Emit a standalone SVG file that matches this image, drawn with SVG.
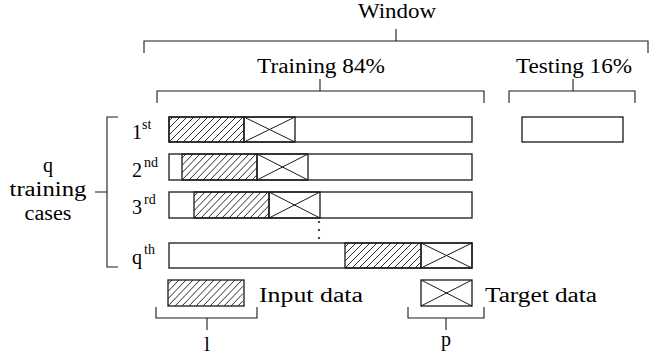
<svg xmlns="http://www.w3.org/2000/svg" width="667" height="358" viewBox="0 0 667 358">
  <!-- bracket connectors -->
  <g id="connectors" fill="none" stroke="#1a1a1a" stroke-width="1.1">
    <path d="M144,53 V41 H648 V53 M396,29 V41"/>
    <path d="M157,103 V91 H484 V103 M320,79 V91"/>
    <path d="M509,103 V91 H635 V103 M573,79 V91"/>
    <path d="M118,117 H107 V267 H118 M95,192 H107"/>
    <path d="M156,307 V318 H257 V307 M207,318 V330"/>
    <path d="M408,307 V318 H484 V307 M446,318 V330"/>
  </g>

  <g id="window-label">
    <text font-family="Liberation Serif" font-size="20" x="397" y="18" text-anchor="middle" textLength="78" lengthAdjust="spacingAndGlyphs">Window</text>
  </g>
  <g id="training-label">
    <text font-family="Liberation Serif" font-size="20" x="321" y="73" text-anchor="middle" textLength="128" lengthAdjust="spacingAndGlyphs">Training 84%</text>
  </g>
  <g id="testing-label">
    <text font-family="Liberation Serif" font-size="20" x="574" y="73" text-anchor="middle" textLength="116" lengthAdjust="spacingAndGlyphs">Testing 16%</text>
  </g>

  <g id="cases-label">
    <text font-family="Liberation Serif" font-size="20" x="48" y="172" text-anchor="middle">q</text>
    <text font-family="Liberation Serif" font-size="20" x="48" y="196" text-anchor="middle" textLength="77" lengthAdjust="spacingAndGlyphs">training</text>
    <text font-family="Liberation Serif" font-size="20" x="48" y="220" text-anchor="middle" textLength="47" lengthAdjust="spacingAndGlyphs">cases</text>
  </g>

  <!-- each case: bar, hatched input segment, crossed target segment -->
  <g id="case-1">
    <text font-family="Liberation Serif" font-size="20" x="132" y="139">1</text>
    <text font-family="Liberation Serif" font-size="14" x="142" y="129">st</text>
    <rect x="169" y="117" width="303" height="25" fill="#ffffff" stroke="#1a1a1a" stroke-width="1.3"/>
    <path transform="translate(169,117)" fill="none" stroke="#1a1a1a" stroke-width="0.9" d="M0,4L4,0 M0,11L11,0 M0,18L18,0 M0,25L25,0 M7,25L32,0 M14,25L39,0 M21,25L46,0 M28,25L53,0 M35,25L60,0 M42,25L67,0 M49,25L74,0 M56,25L75,6 M63,25L75,13 M70,25L75,20"/>
    <rect x="169" y="117" width="75" height="25" fill="none" stroke="#1a1a1a" stroke-width="1.3"/>
    <rect x="244" y="117" width="51" height="25" fill="none" stroke="#1a1a1a" stroke-width="1.3"/>
    <path d="M244,117 L295,142 M244,142 L295,117" stroke="#1a1a1a" stroke-width="1"/>
  </g>

  <g id="case-2">
    <text font-family="Liberation Serif" font-size="20" x="132" y="177">2</text>
    <text font-family="Liberation Serif" font-size="14" x="144" y="167">nd</text>
    <rect x="169" y="154" width="303" height="26" fill="#ffffff" stroke="#1a1a1a" stroke-width="1.3"/>
    <path transform="translate(182,154) scale(1,1.04)" fill="none" stroke="#1a1a1a" stroke-width="0.9" d="M0,4L4,0 M0,11L11,0 M0,18L18,0 M0,25L25,0 M7,25L32,0 M14,25L39,0 M21,25L46,0 M28,25L53,0 M35,25L60,0 M42,25L67,0 M49,25L74,0 M56,25L75,6 M63,25L75,13 M70,25L75,20"/>
    <rect x="182" y="154" width="75" height="26" fill="none" stroke="#1a1a1a" stroke-width="1.3"/>
    <rect x="257" y="154" width="51" height="26" fill="none" stroke="#1a1a1a" stroke-width="1.3"/>
    <path d="M257,154 L308,180 M257,180 L308,154" stroke="#1a1a1a" stroke-width="1"/>
  </g>

  <g id="case-3">
    <text font-family="Liberation Serif" font-size="20" x="132" y="214">3</text>
    <text font-family="Liberation Serif" font-size="14" x="144" y="204">rd</text>
    <rect x="169" y="192" width="303" height="26" fill="#ffffff" stroke="#1a1a1a" stroke-width="1.3"/>
    <path transform="translate(194,192) scale(1,1.04)" fill="none" stroke="#1a1a1a" stroke-width="0.9" d="M0,4L4,0 M0,11L11,0 M0,18L18,0 M0,25L25,0 M7,25L32,0 M14,25L39,0 M21,25L46,0 M28,25L53,0 M35,25L60,0 M42,25L67,0 M49,25L74,0 M56,25L75,6 M63,25L75,13 M70,25L75,20"/>
    <rect x="194" y="192" width="75" height="26" fill="none" stroke="#1a1a1a" stroke-width="1.3"/>
    <rect x="269" y="192" width="51" height="26" fill="none" stroke="#1a1a1a" stroke-width="1.3"/>
    <path d="M269,192 L320,218 M269,218 L320,192" stroke="#1a1a1a" stroke-width="1"/>
  </g>

  <g id="ellipsis" fill="#1a1a1a">
    <circle cx="319" cy="222" r="1.1"/>
    <circle cx="319" cy="230" r="1.1"/>
    <circle cx="319" cy="238" r="1.1"/>
  </g>

  <g id="case-q">
    <text font-family="Liberation Serif" font-size="20" x="132" y="264">q</text>
    <text font-family="Liberation Serif" font-size="14" x="144" y="254">th</text>
    <rect x="169" y="243" width="303" height="25" fill="#ffffff" stroke="#1a1a1a" stroke-width="1.3"/>
    <path transform="translate(345,243)" fill="none" stroke="#1a1a1a" stroke-width="0.9" d="M0,4L4,0 M0,11L11,0 M0,18L18,0 M0,25L25,0 M7,25L32,0 M14,25L39,0 M21,25L46,0 M28,25L53,0 M35,25L60,0 M42,25L67,0 M49,25L74,0 M56,25L75,6 M63,25L75,13 M70,25L75,20"/>
    <rect x="345" y="243" width="76" height="25" fill="none" stroke="#1a1a1a" stroke-width="1.3"/>
    <rect x="421" y="243" width="51" height="25" fill="none" stroke="#1a1a1a" stroke-width="1.3"/>
    <path d="M421,243 L472,268 M421,268 L472,243" stroke="#1a1a1a" stroke-width="1"/>
  </g>

  <g id="testing-block">
    <rect x="522" y="117" width="101" height="25" fill="#ffffff" stroke="#1a1a1a" stroke-width="1.3"/>
  </g>

  <g id="legend-input">
    <path transform="translate(168,280) scale(1,1.04)" fill="none" stroke="#1a1a1a" stroke-width="0.9" d="M0,4L4,0 M0,11L11,0 M0,18L18,0 M0,25L25,0 M7,25L32,0 M14,25L39,0 M21,25L46,0 M28,25L53,0 M35,25L60,0 M42,25L67,0 M49,25L74,0 M56,25L75,6 M63,25L75,13 M70,25L75,20"/>
    <rect x="168" y="280" width="76" height="26" fill="none" stroke="#1a1a1a" stroke-width="1.3"/>
    <text font-family="Liberation Serif" font-size="20" x="259" y="302" textLength="104" lengthAdjust="spacingAndGlyphs">Input data</text>
    <text font-family="Liberation Serif" font-size="20" x="207" y="351" text-anchor="middle">l</text>
  </g>

  <g id="legend-target">
    <rect x="421" y="280" width="51" height="26" fill="#ffffff" stroke="#1a1a1a" stroke-width="1.3"/>
    <path d="M421,280 L472,306 M421,306 L472,280" stroke="#1a1a1a" stroke-width="1"/>
    <text font-family="Liberation Serif" font-size="20" x="485" y="302" textLength="112" lengthAdjust="spacingAndGlyphs">Target data</text>
    <text font-family="Liberation Serif" font-size="20" x="446" y="346" text-anchor="middle">p</text>
  </g>
</svg>
